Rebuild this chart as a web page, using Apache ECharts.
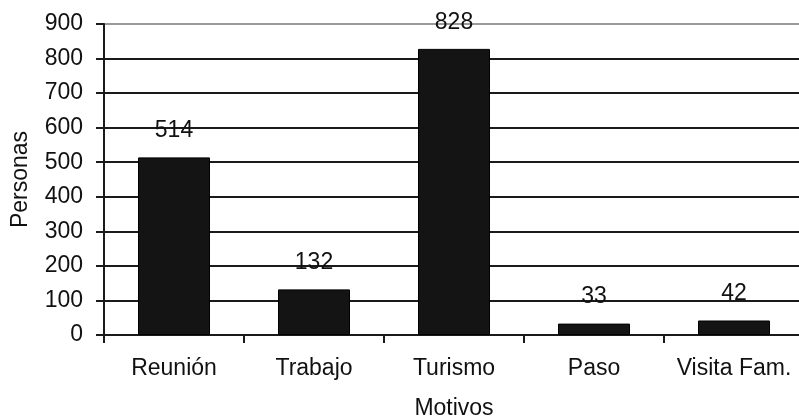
<!DOCTYPE html>
<html>
<head>
<meta charset="utf-8">
<script src="https://cdn.jsdelivr.net/npm/echarts@6/dist/echarts.min.js"></script>
<style>
  html, body { margin: 0; padding: 0; background: #ffffff; }
  #chart { width: 799px; height: 418px; }
</style>
</head>
<body>
<div id="chart"></div>
<script>
// Motivos de viaje
const categories = ['Reunión', 'Trabajo', 'Turismo', 'Paso', 'Visita Fam.'];
const personas = [514, 132, 828, 33, 42];
const yTicks = [0, 100, 200, 300, 400, 500, 600, 700, 800, 900];

const FONT = 'Liberation Sans, Arial, sans-serif';
const INK = '#111111';
const FS = 23;

// gridlines are dark; the topmost one is lighter
const gridColors = yTicks.map((v, i) => (i === yTicks.length - 1 ? '#9a9a9a' : '#1a1a1a'));

const chart = echarts.init(document.getElementById('chart'), null, { renderer: 'canvas' });
chart.setOption({
  backgroundColor: '#ffffff',
  animation: false,
  grid: { left: 104, right: -5, top: 24, bottom: 83, containLabel: false, outerBoundsMode: 'none' },
  xAxis: {
    type: 'category',
    data: categories,
    name: 'Motivos',
    nameLocation: 'middle',
    nameGap: 62,
    nameTextStyle: { fontFamily: FONT, fontSize: FS, color: INK, verticalAlign: 'top' },
    axisLine: { show: true, lineStyle: { color: '#1a1a1a', width: 2 } },
    axisTick: { show: true, alignWithLabel: false, length: 8, lineStyle: { color: '#1a1a1a', width: 2 } },
    axisLabel: { interval: 0, fontFamily: FONT, fontSize: FS, color: INK, margin: 22 }
  },
  yAxis: {
    type: 'value',
    min: 0,
    max: 900,
    interval: 100,
    name: 'Personas',
    nameLocation: 'middle',
    nameRotate: 90,
    nameGap: 72,
    nameTextStyle: { fontFamily: FONT, fontSize: FS, color: INK },
    axisLine: { show: true, lineStyle: { color: '#1a1a1a', width: 2 } },
    axisTick: { show: true, length: 8, lineStyle: { color: '#1a1a1a', width: 2 } },
    axisLabel: { fontFamily: FONT, fontSize: FS, color: INK, margin: 21 },
    splitLine: { show: true, lineStyle: { color: gridColors, width: 2 } }
  },
  series: [{
    type: 'bar',
    data: personas,
    barWidth: 72,
    itemStyle: { color: '#141414', borderColor: '#000', borderWidth: 1 },
    label: {
      show: true,
      position: 'top',
      distance: 15,
      fontFamily: FONT,
      fontSize: FS,
      color: INK
    }
  }]
});
</script>
</body>
</html>
